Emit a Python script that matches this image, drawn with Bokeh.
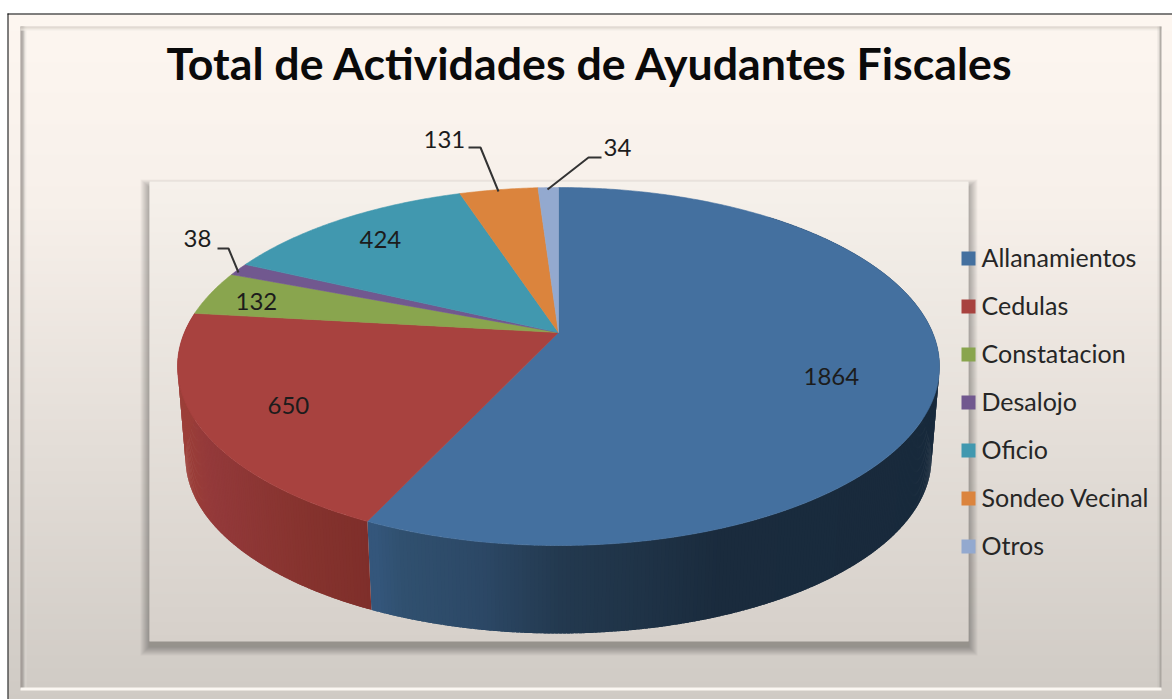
import numpy as np
from bokeh.plotting import figure
from bokeh.models import Range1d
from bokeh.core.properties import value
from bokeh.embed import file_html
from bokeh.resources import INLINE

categories = ["Allanamientos", "Cedulas", "Constatacion", "Desalojo", "Oficio", "Sondeo Vecinal", "Otros"]
values = [1864, 650, 132, 38, 424, 131, 34]
colors = ["#44709f", "#a8423f", "#89a54e", "#71588f", "#4198af", "#db843d", "#93a9cf"]
title = "Total de Actividades de Ayudantes Fiscales"

W, H = 1172, 699
OX, OY = 0, 0
p = figure(width=W, height=H, x_range=Range1d(OX, OX + W), y_range=Range1d(OY + H, OY),
           output_backend="svg", toolbar_location=None, min_border=0,
           x_axis_location=None, y_axis_location=None)
p.grid.visible = False
p.outline_line_color = None
p.background_fill_color = "#ffffff"
p.border_fill_color = "#ffffff"


def rgb(h):
    return np.array([int(h[i:i + 2], 16) for i in (1, 3, 5)], float)


def ramp(t, stops, cols):
    arr = np.array([rgb(c) for c in cols])
    return ["#%02x%02x%02x" % tuple(int(round(np.interp(v, stops, arr[:, k]))) for k in range(3)) for v in t]


def vgrad(x0, x1, y0, y1, stops, cols, step=2):
    ys = np.arange(y0, y1, step)
    p.quad(left=x0, right=x1, top=ys, bottom=np.minimum(ys + step + 1, y1),
           fill_color=ramp(ys, stops, cols), line_color=None)


# chart area
vgrad(8, OX + W, 14, OY + H, [14, 200, 699], ["#fdf6f0", "#f7f0ea", "#cfcac4"])

# bevel of the inner frame
for i, (c, al) in enumerate([("#8f8b86", 0.9), ("#8f8b86", 0.9), ("#9c9893", 0.9), ("#b5b0ab", 0.7), ("#d6d1cb", 0.5), ("#e9e3dd", 0.4)]):
    p.quad(left=20 + i, right=21 + i, top=26, bottom=688, fill_color=c, line_color=None, fill_alpha=al)
for i, c in enumerate(["#cfc8c0", "#d8d1c9", "#e6dfd7", "#f2ebe4"]):
    p.quad(left=20, right=1161, top=26 + i, bottom=27 + i, fill_color=c, line_color=None, fill_alpha=0.9)
p.quad(left=1159, right=1161, top=26, bottom=688, fill_color="#a5a09a", line_color=None, fill_alpha=0.85)
p.quad(left=1157, right=1159, top=26, bottom=688, fill_color="#b5b0aa", line_color=None, fill_alpha=0.25)
p.quad(left=20, right=1161, top=687, bottom=690, fill_color="#fbf7f2", line_color=None)

# outer black edge
p.quad(left=7, right=OX + W, top=13, bottom=14, fill_color="#000000", line_color=None)
p.quad(left=7, right=8, top=13, bottom=OY + H, fill_color="#000000", line_color=None)

# plot area with shadow
PL, PR, PT, PB = 149, 968, 181, 641
for i in range(1, 10):
    p.quad(left=PL - i, right=PR + i, top=PT + 6 - i * 0.9, bottom=PB + 5 + i,
           fill_color="#000000", fill_alpha=0.035, line_color=None)
vgrad(PL, PR, PT, PB, [PT, PB], ["#f6f1eb", "#d6d0ca"])

# 3D pie: perspective disc
CX, CY = 558.0, 332.0
FAR, NEAR = 145.0, 213.0
RX = 381.0
K = (NEAR / FAR - 1) / (NEAR / FAR + 1)
B = FAR * (1 + K)
A = RX * np.sqrt(1 - K * K)
S, CY2 = 0.979, 424.5


def top_rim(th):
    u, v = np.sin(th), np.cos(th)
    d = 1 + K * v
    return CX + A * u / d, CY - B * v / d


def bottom_rim(th):
    x, y = top_rim(th)
    return CX + S * (x - CX), CY2 + S * (y - CY)


cum = np.cumsum([0] + values) / sum(values) * 2 * np.pi

# side walls
wall_stops = {
    0: ([560, 375, 400, 480, 640, 720, 960], ["#23394f", "#34567b", "#30506f", "#2c4866", "#1f3347", "#1a2b3d", "#182a3c"]),
    1: ([180, 210, 300, 372], ["#9c3f39", "#93393a", "#86332e", "#7e2e2a"]),
}
wx, wy, wc = [], [], []
for idx, (lo, hi) in [(0, (np.radians(40), cum[1])), (1, (cum[1], cum[2]))]:
    n = int(np.degrees(hi - lo) * 2)
    edges = np.linspace(lo, hi, n + 1)
    for a0, a1 in zip(edges[:-1], edges[1:]):
        a2 = min(a1 + np.radians(0.4), hi)
        tt = np.linspace(a0, a2, 3)
        xt, yt = top_rim(tt)
        xb, yb = bottom_rim(tt)
        wx.append(np.r_[xt, xb[::-1]])
        wy.append(np.r_[yt, yb[::-1]])
        mid = top_rim((a0 + a1) / 2)[0]
        st, cs = wall_stops[idx]
        order = np.argsort(st)
        wc.append(ramp([mid], np.array(st)[order], [cs[j] for j in order])[0])
p.patches(wx, wy, fill_color=wc, line_color=None)

# top surface
tx, ty = [], []
for i in range(len(values)):
    n = max(8, int(np.degrees(cum[i + 1] - cum[i]) * 2))
    t = np.linspace(cum[i], cum[i + 1], n)
    x, y = top_rim(t)
    tx.append(np.r_[CX, x])
    ty.append(np.r_[CY, y])
p.patches(tx, ty, fill_color=colors, line_color=colors, line_width=0.6)

# leader lines
leader_x = [[498, 480, 468], [547, 588, 601], [238, 228, 217]]
leader_y = [[191, 147, 147], [189, 157, 157], [272, 248, 248]]
p.multi_line(leader_x, leader_y, line_color="#333333", line_width=2)

BASE = 0.37  # the svg text baseline sits this many ems below the anchor

# value labels
FS = 24.0
label_text = ["1864", "650", "132", "424", "131", "34", "38"]
label_x = [803, 267, 235, 359, 423, 603, 183]
label_y = [385, 414, 310, 248, 148, 156, 247]
p.text(label_x, [y - BASE * FS for y in label_y], text=label_text, text_font=value("Lato"), text_font_size="%gpx" % FS,
       text_color="#1c1c1c", text_baseline="alphabetic", text_align="left")

# legend
LS = 25.0
leg_y = [258, 306, 354, 402, 450, 498, 546]
p.quad(left=961, right=975, top=[y - 7 for y in leg_y], bottom=[y + 7 for y in leg_y],
       fill_color=colors, line_color=None)
p.text([981] * 7, [y + 8 - BASE * LS for y in leg_y], text=categories, text_font=value("Lato"), text_font_size="%gpx" % LS,
       text_color="#262626", text_baseline="alphabetic", text_align="left")

# title
TS = 44.7
p.text([590], [79 - BASE * TS], text=[title], text_font=value("Lato"), text_font_size="%gpx" % TS, text_font_style="bold",
       text_color="#0a0a0a", text_baseline="alphabetic", text_align="center")

open("out.html", "w").write(file_html(p, INLINE))
